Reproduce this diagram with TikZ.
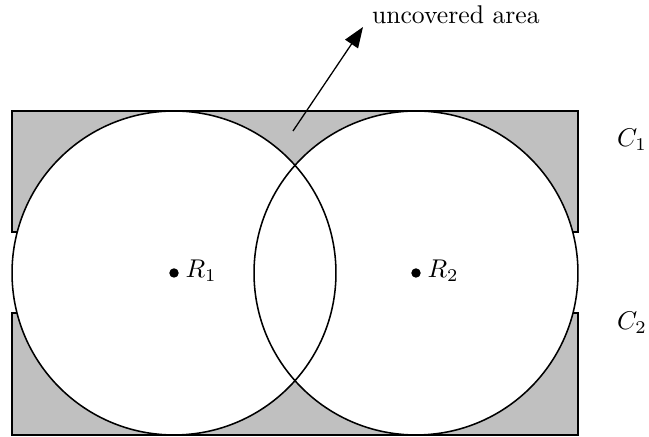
\documentclass[tikz,border=0pt]{standalone}
\usepackage{amsmath}
\usetikzlibrary{arrows.meta,positioning}
\definecolor{areagray}{HTML}{C0C0C0}
\tikzset{
  region/.style={draw=black, fill=areagray, line width=0.45pt},
  disk/.style={draw=black, line width=0.6pt},
  centre/.style={circle, fill=black, inner sep=1.3pt},
  pointer/.style={-{Triangle[length=8pt,width=6pt]}, line width=0.5pt}
}
\begin{document}
\begin{tikzpicture}[x=0.0137cm, y=-0.0137cm]
  \useasboundingbox (0,0) rectangle (649,437);
  % the two strips
  \draw[region] (12,111) rectangle (578,232);
  \draw[region] (12,313) rectangle (578,435);
  % the two disks, filled first so both rims stay visible
  \foreach \cx in {174,416}{\fill[white] (\cx,273) circle (2.2194cm);}
  \foreach \cx in {174,416}{\draw[disk] (\cx,273) circle (2.2194cm);}
  \node[centre] (r1) at (174,273) {};
  \node[centre] (r2) at (416,273) {};
  \node[right=-1pt of r1, yshift=1pt] (r1lab) {$R_1$};
  \node[right=-1pt of r2, yshift=1pt] (r2lab) {$R_2$};
  \node (c1) at (632,140) {$C_1$};
  \node (c2) at (632,323) {$C_2$};
  \coordinate (gap) at (293,131);
  \node[anchor=south west, inner ysep=1pt] (uncov) at (363,27) {uncovered area};
  \draw[pointer] (gap) -- (uncov.south west);
\end{tikzpicture}
\end{document}
